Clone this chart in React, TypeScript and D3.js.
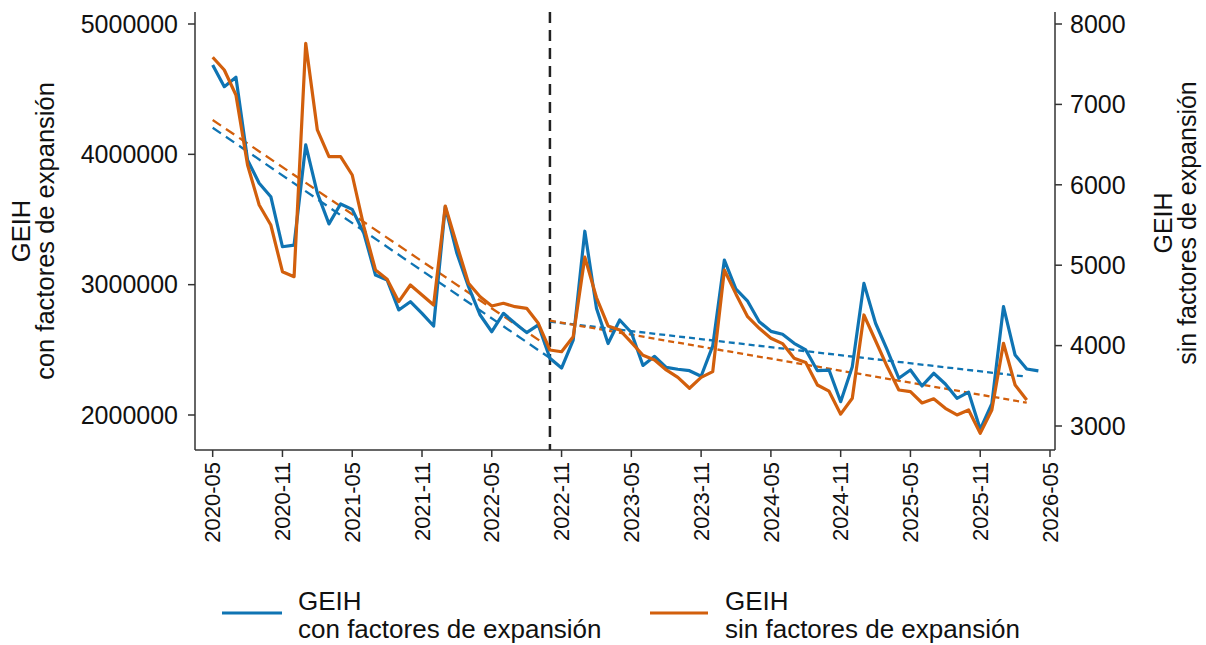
import React from "react";
import * as d3 from "d3";

// monthly series, starting 2020-05
const startMonth = "2020-05";

// GEIH con factores de expansión (left axis)
const conFactores = [
  4686000, 4519000, 4591000, 3957000, 3778000, 3675000, 3291000, 3304000, 4072000, 3703000,
  3466000, 3619000, 3578000, 3394000, 3074000, 3036000, 2806000, 2869000, 2780000, 2683000,
  3598000, 3241000, 2985000, 2767000, 2639000, 2780000, 2704000, 2632000, 2691000, 2435000,
  2360000, 2575000, 3410000, 2820000, 2548000, 2729000, 2633000, 2380000, 2450000, 2366000,
  2351000, 2340000, 2297000, 2530000, 3189000, 2965000, 2873000, 2716000, 2642000, 2619000,
  2550000, 2499000, 2340000, 2345000, 2102000, 2371000, 3010000, 2704000, 2499000, 2282000,
  2345000, 2223000, 2320000, 2238000, 2128000, 2175000, 1890000, 2087000, 2831000, 2460000,
  2353000, 2338000,
];

// GEIH sin factores de expansión (right axis)
const sinFactores = [
  7586, 7428, 7117, 6246, 5749, 5500, 4919, 4857, 7760, 6682,
  6350, 6350, 6122, 5479, 4940, 4825, 4546, 4754, 4629, 4505,
  5736, 5251, 4775, 4608, 4493, 4526, 4484, 4464, 4277, 3945,
  3924, 4111, 5100, 4598, 4245, 4194, 4039, 3880, 3821, 3697,
  3604, 3469, 3604, 3676, 4940, 4640, 4360, 4215, 4091, 4025,
  3842, 3790, 3510, 3433, 3147, 3345, 4381, 4060, 3739, 3448,
  3427, 3286, 3338, 3220, 3137, 3199, 2909, 3200, 4029, 3510,
  3323,
];

// fitted trends, before and after the break
const trendCon = [
  { from: "2020-05", to: "2022-10", v0: 4204000, v1: 2437000 },
  { from: "2022-10", to: "2026-03", v0: 2716000, v1: 2294000 },
];
const trendSin = [
  { from: "2020-05", to: "2022-10", v0: 6806, v1: 3975 },
  { from: "2022-10", to: "2026-03", v0: 4310, v1: 3290 },
];

const breakMonth = "2022-10";

const xTickLabels = [
  "2020-05", "2020-11", "2021-05", "2021-11", "2022-05", "2022-11", "2023-05",
  "2023-11", "2024-05", "2024-11", "2025-05", "2025-11", "2026-05",
];
const leftTicks = [2000000, 3000000, 4000000, 5000000];
const rightTicks = [3000, 4000, 5000, 6000, 7000, 8000];

const BLUE = "#0f74b3";
const ORANGE = "#d25f0c";
const FONT = "'Liberation Sans', Arial, Helvetica, sans-serif";

const monthIndex = (s: string) => {
  const [y, m] = s.split("-").map(Number);
  const [y0, m0] = startMonth.split("-").map(Number);
  return (y - y0) * 12 + (m - m0);
};

export default function App() {
  const width = 1206;
  const height = 645;
  const plot = { left: 195, right: 1055, top: 12, bottom: 450 };

  const x = d3
    .scaleLinear()
    .domain([monthIndex("2020-05") - 1.52, monthIndex("2026-05") + 0.43])
    .range([plot.left, plot.right]);
  const yLeft = d3.scaleLinear().domain([2000000, 5000000]).range([415, 24]);
  const yRight = d3.scaleLinear().domain([3000, 8000]).range([426, 24]);

  const lineCon = d3
    .line<number>()
    .x((_, i) => x(i))
    .y((d) => yLeft(d));
  const lineSin = d3
    .line<number>()
    .x((_, i) => x(i))
    .y((d) => yRight(d));

  const xb = x(monthIndex(breakMonth));

  return (
    <svg
      width={width}
      height={height}
      style={{ position: "absolute", left: 0, top: 0, background: "#fff" }}
      fontFamily={FONT}
    >
      {/* axes */}
      <g stroke="#333" strokeWidth={1.5} fill="none">
        <line x1={plot.left} y1={plot.top} x2={plot.left} y2={plot.bottom} />
        <line x1={plot.right} y1={plot.top} x2={plot.right} y2={plot.bottom} />
        <line x1={plot.left} y1={plot.bottom} x2={plot.right} y2={plot.bottom} />
      </g>

      {leftTicks.map((t) => (
        <g key={`l-${t}`}>
          <line x1={plot.left - 7} x2={plot.left} y1={yLeft(t)} y2={yLeft(t)} stroke="#333" strokeWidth={1.5} />
          <text x={178} y={yLeft(t)} dy="0.35em" textAnchor="end" fontSize={25} fill="#111">
            {t}
          </text>
        </g>
      ))}

      {rightTicks.map((t) => (
        <g key={`r-${t}`}>
          <line x1={plot.right} x2={plot.right + 7} y1={yRight(t)} y2={yRight(t)} stroke="#333" strokeWidth={1.5} />
          <text x={1070} y={yRight(t)} dy="0.35em" textAnchor="start" fontSize={25} fill="#111">
            {t}
          </text>
        </g>
      ))}

      {xTickLabels.map((lab) => {
        const xt = x(monthIndex(lab));
        return (
          <g key={lab}>
            <line x1={xt} x2={xt} y1={plot.bottom} y2={plot.bottom + 7} stroke="#333" strokeWidth={1.5} />
            <text
              transform={`translate(${xt},${plot.bottom + 12}) rotate(-90)`}
              dy="0.35em"
              textAnchor="end"
              fontSize={22}
              fill="#111"
            >
              {lab}
            </text>
          </g>
        );
      })}

      {/* axis titles */}
      <g transform="translate(30,231) rotate(-90)" fontSize={25.5} fill="#111" textAnchor="middle">
        <text x={0} y={0}>GEIH</text>
        <text x={0} y={24}>con factores de expansión</text>
      </g>
      <g transform="translate(1172,223) rotate(-90)" fontSize={25} fill="#111" textAnchor="middle">
        <text x={0} y={0}>GEIH</text>
        <text x={0} y={24}>sin factores de expansión</text>
      </g>

      {/* break line */}
      <line
        x1={xb}
        x2={xb}
        y1={plot.top}
        y2={plot.bottom}
        stroke="#222"
        strokeWidth={2.5}
        strokeDasharray="11,7"
      />

      {/* trends */}
      {trendCon.map((t, i) => (
        <line
          key={`tc-${i}`}
          x1={x(monthIndex(t.from))}
          x2={x(monthIndex(t.to))}
          y1={yLeft(t.v0)}
          y2={yLeft(t.v1)}
          stroke={BLUE}
          strokeWidth={2.3}
          strokeDasharray={i === 0 ? "10,6" : "6,4"}
        />
      ))}
      {trendSin.map((t, i) => (
        <line
          key={`ts-${i}`}
          x1={x(monthIndex(t.from))}
          x2={x(monthIndex(t.to))}
          y1={yRight(t.v0)}
          y2={yRight(t.v1)}
          stroke={ORANGE}
          strokeWidth={2.3}
          strokeDasharray={i === 0 ? "10,6" : "6,4"}
        />
      ))}

      {/* series */}
      <path d={lineCon(conFactores) || ""} fill="none" stroke={BLUE} strokeWidth={3.2} strokeLinejoin="round" />
      <path d={lineSin(sinFactores) || ""} fill="none" stroke={ORANGE} strokeWidth={3.2} strokeLinejoin="round" />

      {/* legend */}
      <g fontSize={26} fill="#111">
        <line x1={222} x2={282} y1={613} y2={613} stroke={BLUE} strokeWidth={3.2} />
        <text x={298} y={610}>GEIH</text>
        <text x={298} y={638}>con factores de expansión</text>
        <line x1={650} x2={708} y1={613} y2={613} stroke={ORANGE} strokeWidth={3.2} />
        <text x={725} y={610}>GEIH</text>
        <text x={725} y={638}>sin factores de expansión</text>
      </g>
    </svg>
  );
}
